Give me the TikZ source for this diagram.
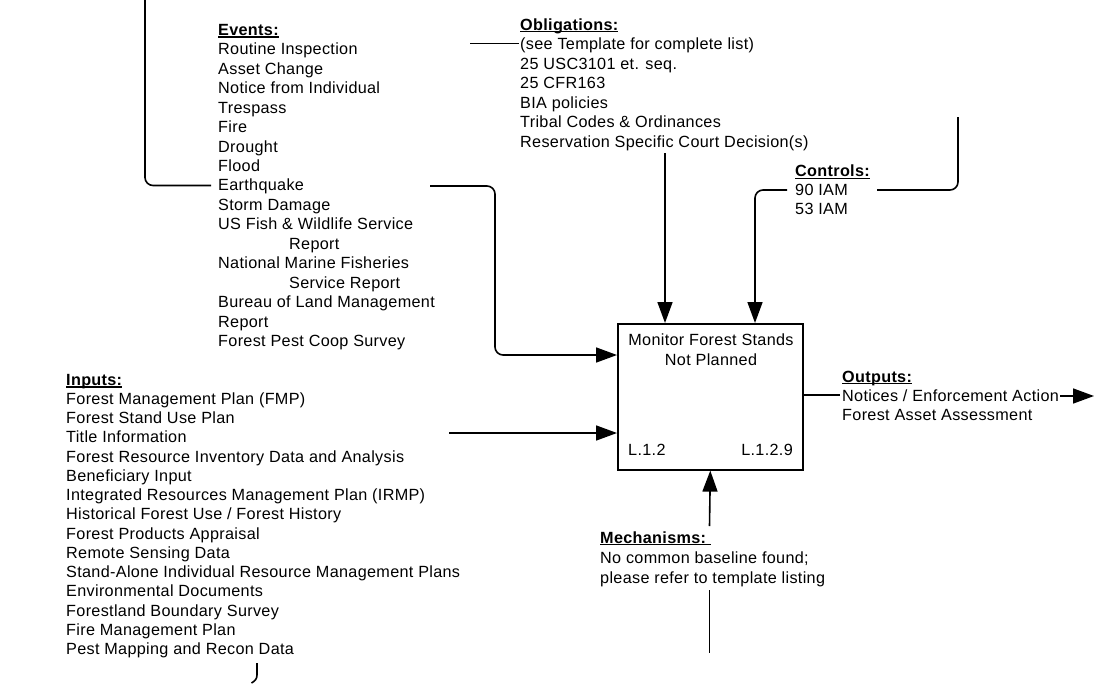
\documentclass[tikz,border=0pt]{standalone}
\usepackage{fontspec}
\setmainfont{Liberation Sans}[LetterSpace=2]
\usetikzlibrary{arrows.meta,calc}

% bold heading with a heavy underline that runs through descenders
\newcommand\hdg[1]{\setbox0\hbox{\bfseries #1}\rlap{\rule[-2.3pt]{\wd0}{1.3pt}}\box0}

% multi-line nodes are placed by the baseline of their last line
\tikzset{
  txt/.style={anchor=base west, inner sep=0pt, align=left},
  lsk/.style={font=\fontsize{16.2}{#1}\selectfont},
  conn/.style={line width=1.6pt, rounded corners=8pt},
  arr/.style={conn, -{Triangle[length=21pt,width=15pt]}},
  boxst/.style={draw, line width=1.6pt, minimum width=185pt, minimum height=146pt,
                anchor=north west, inner sep=0pt}
}

\begin{document}
\begin{tikzpicture}[x=1pt,y=-1pt]
\useasboundingbox (0,0) rectangle (1094,683);
\fill[white] (0,0) rectangle (1094,683);

% activity box
\node[boxst] (box) at (617,323) {};
\node[lsk=19.5, anchor=base, inner sep=0pt, align=center] (title) at (711,365)
  {Monitor Forest Stands\\Not Planned};
\node[txt, lsk=19.5] (nodeid) at (628,455) {L.1.2};
\node[lsk=19.5, anchor=base east, inner sep=0pt] (refid) at (793,455) {L.1.2.9};

% text blocks
\node[txt, lsk=19.45] (events) at (218,346.5) {\hdg{Events:}\\
  Routine Inspection\\
  Asset Change\\
  Notice from Individual\\
  Trespass\\
  Fire\\
  Drought\\
  Flood\\
  Earthquake\\
  Storm Damage\\
  US Fish \& Wildlife Service\\
  \hspace*{71pt}Report\\
  National Marine Fisheries\\
  \hspace*{71pt}Service Report\\
  Bureau of Land Management\\
  Report\\
  Forest Pest Coop Survey};

\node[txt, lsk=19.5] (oblig) at (520,147) {\hdg{Obligations:}\\
  (see Template for complete list)\\
  25 USC3101 et. seq.\\
  25 CFR163\\
  BIA policies\\
  Tribal Codes \& Ordinances\\
  Reservation Specific Court Decision(s)};

\node[txt, lsk=19] (controls) at (795,214.5) {\hdg{Controls:}\\
  90 IAM\\
  53 IAM};

\node[txt, lsk=19] (outputs) at (842,420) {\hdg{Outputs:}\\
  Notices / Enforcement Action\\
  Forest Asset Assessment};

\node[txt, lsk=20] (mech) at (600,583) {\hdg{Mechanisms:\ }\\
  No common baseline found;\\
  please refer to template listing};

\node[txt, lsk=19.23] (inputs) at (66,654.5) {\hdg{Inputs:}\\
  Forest Management Plan (FMP)\\
  Forest Stand Use Plan\\
  Title Information\\
  Forest Resource Inventory Data and Analysis\\
  Beneficiary Input\\
  Integrated Resources Management Plan (IRMP)\\
  Historical Forest Use / Forest History\\
  Forest Products Appraisal\\
  Remote Sensing Data\\
  Stand-Alone Individual Resource Management Plans\\
  Environmental Documents\\
  Forestland Boundary Survey\\
  Fire Management Plan\\
  Pest Mapping and Recon Data};

% connector ends
\coordinate (evTop) at (145,0);
\coordinate (evIn) at (211,185.5);
\coordinate (evOut) at (430,186);
\coordinate (evBend) at (495,355);
\coordinate (inOut) at (449,433);
\coordinate (obL) at (470,43.5);
\coordinate (obIn) at (519,43.5);
\coordinate (obOut) at (665,153);
\coordinate (ctIn) at (787,190);
\coordinate (ctOut) at (877,190);
\coordinate (ctTop) at (958,117);
\coordinate (outIn) at (840,395);
\coordinate (outA) at (1060,396);
\coordinate (outTip) at (1094,396);
\coordinate (meTop) at (709.5,526);
\coordinate (meA) at (709.5,590);
\coordinate (meB) at (709.5,653);
\coordinate (tailA) at (257,663);
\coordinate (tailB) at (251.5,683);

% connectors
\draw[conn] (evTop) |- (evIn);
\draw[arr] (evOut) -| (evBend) -- ($(box.north west)+(0,32)$);
\draw[arr] (inOut) -- ($(box.north west)+(0,110)$);
\draw[conn] (obL) -- (obIn);
\draw[arr] (obOut) -- ($(box.north west)+(48,0)$);
\draw[arr] (ctIn) -| ($(box.north west)+(138,0)$);
\draw[conn] (ctOut) -| (ctTop);
\draw[conn] ($(box.north east)+(0,72)$) -- (outIn);
\draw[arr] (outA) -- (outTip);
\draw[arr] (meTop) -- (box.south);
\draw[conn] (meA) -- (meB);
\draw[line width=1.6pt] (tailA) -- (257,675) .. controls (257,679) and (255,681) .. (tailB);
\end{tikzpicture}
\end{document}
